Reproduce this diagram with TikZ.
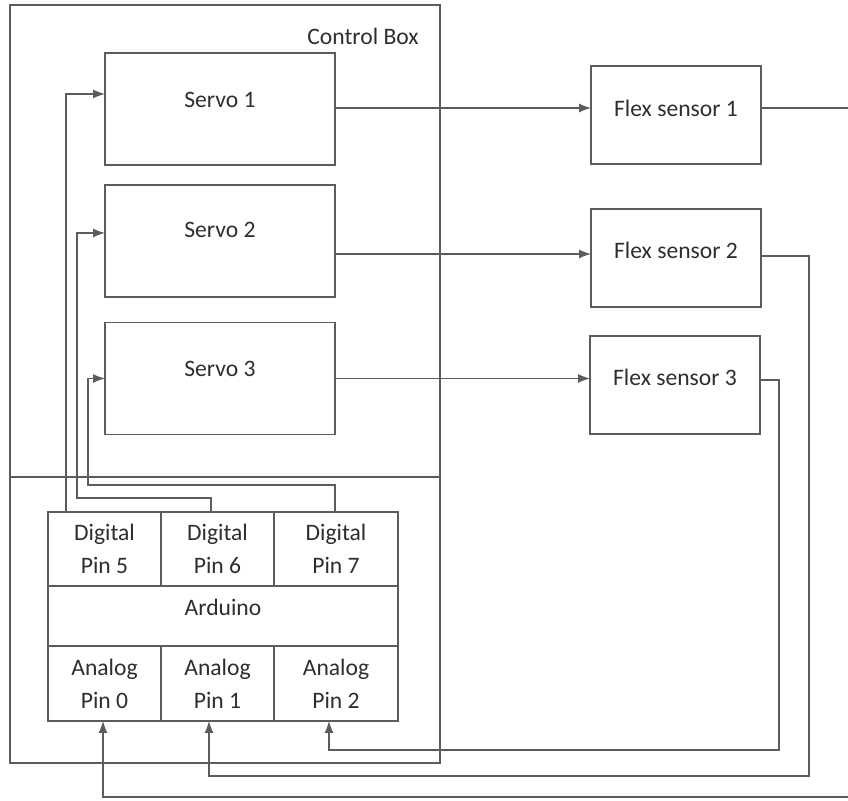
\documentclass[tikz,border=0pt]{standalone}
\usepackage{fontspec}
\setmainfont{Carlito}
\usepackage{xcolor}
\usepackage{tikz}
\usetikzlibrary{arrows.meta,positioning}

\definecolor{wiregray}{HTML}{5C5C5C}
\definecolor{inkgray}{HTML}{2E2E2E}

\tikzset{
  wire/.style={draw=wiregray, line width=0.6pt},
  feed/.style={wire, -{Latex[length=6pt,width=4.5pt]}},
  block/.style={draw=wiregray, line width=0.6pt, inner sep=0pt, outer sep=0pt,
    text=inkgray, font=\fontsize{11.8}{16.5}\selectfont, align=center},
  servo/.style={block, minimum width=115pt, minimum height=56pt},
  flex/.style={block, minimum width=85pt, minimum height=49pt},
  pincell/.style={block, minimum width=56.5pt, minimum height=37pt},
  txt/.style={text=inkgray, font=\fontsize{11.8}{16.5}\selectfont},
  node distance=0pt
}

\begin{document}
\begin{tikzpicture}[x=0.5pt,y=-0.5pt]
\useasboundingbox (0,0) rectangle (848,801);
\clip (0,0) rectangle (848,801);

% control box
\node[block, minimum width=215pt, minimum height=379pt] (cbox) at (225,384) {};
\node[txt] (cblabel) at (363,36) {Control Box};
\draw[wire] ([yshift=-46.5pt]cbox.west) -- ([yshift=-46.5pt]cbox.east);

% servos
\node[servo, label={[txt,yshift=4.5pt]center:Servo 1}] (s1) at (220,109) {};
\node[servo, label={[txt,yshift=5.5pt]center:Servo 2}] (s2) at (220,241) {};
\node[servo, label={[txt,yshift=5pt]center:Servo 3}] (s3) at (220,378.5) {};

% flex sensors
\node[flex, label={[txt,yshift=3.5pt]center:Flex sensor 1}] (f1) at (676,115) {};
\node[flex, label={[txt,yshift=4pt]center:Flex sensor 2}] (f2) at (676,258) {};
\node[flex, label={[txt,yshift=4pt]center:Flex sensor 3}] (f3) at (675,385) {};

% arduino
\node[pincell] (d5) at (104.5,549) {Digital\\Pin 5};
\node[pincell, right=of d5] (d6) {Digital\\Pin 6};
\node[pincell, right=of d6, minimum width=62pt] (d7) {Digital\\Pin 7};
\node[block, below=of d5.south west, anchor=north west, minimum width=175pt,
  minimum height=30pt, label={[txt,yshift=4.5pt]center:Arduino}] (ard) {};
\node[pincell, below=of ard.south west, anchor=north west, minimum height=37.5pt] (a0) {Analog\\Pin 0};
\node[pincell, right=of a0, minimum height=37.5pt] (a1) {Analog\\Pin 1};
\node[pincell, right=of a1, minimum height=37.5pt, minimum width=62pt] (a2) {Analog\\Pin 2};

% digital pins to servos
\draw[feed] ([xshift=-19.25pt]d5.north) |- ([yshift=7.5pt]s1.west);
\draw[feed] ([xshift=-3.25pt]d6.north) -- ++(0,-14) -- ++(-134,0) |- ([yshift=4pt]s2.west);
\draw[feed] ([xshift=-0.5pt]d7.north) -- ++(0,-27) -- ++(-247,0) |- (s3.west);

% servos to flex sensors
\draw[feed] ([yshift=0.5pt]s1.east) -- ([yshift=0.5pt]s1.east -| f1.west);
\draw[feed] ([yshift=-6.5pt]s2.east) -- ([yshift=-6.5pt]s2.east -| f2.west);
\draw[feed] (s3.east) -- (s3.east -| f3.west);

% flex sensors to analog pins
\draw[feed] ([yshift=3.5pt]f1.east) -- ++(100,0) -- ++(0,689) -| ([xshift=-0.75pt]a0.south);
\draw[feed] ([yshift=1pt]f2.east) -- ++(48,0) -- ++(0,520) -| ([xshift=-4.25pt]a1.south);
\draw[feed] ([yshift=2.5pt]f3.east) -- ++(19,0) -- ++(0,370) -| ([xshift=-3.5pt]a2.south);
\end{tikzpicture}
\end{document}
